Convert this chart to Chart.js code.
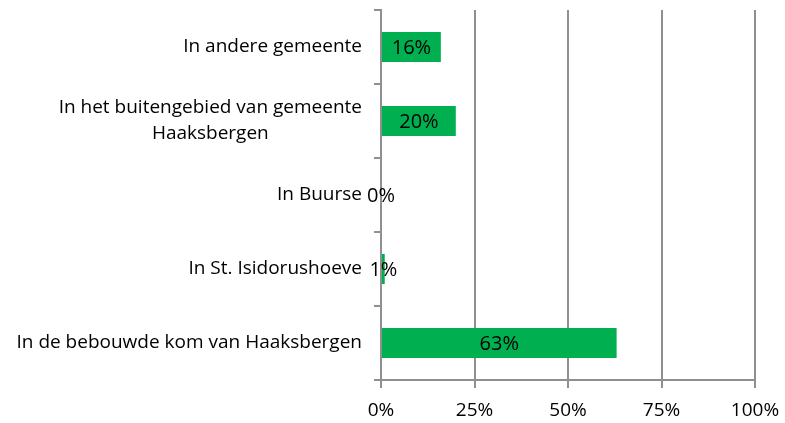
<!DOCTYPE html>
<html>
<head>
<meta charset="utf-8">
<script src="https://cdn.jsdelivr.net/npm/chart.js@4/dist/chart.umd.min.js"></script>
<style>
  html, body { margin: 0; padding: 0; background: #fff; }
  #wrap { width: 785px; height: 423px; }
</style>
</head>
<body>
<div id="wrap"><canvas id="woonplaatsChart"></canvas></div>
<script>
const categories = [
  ['In andere gemeente'],
  ['In het buitengebied van gemeente', 'Haaksbergen'],
  ['In Buurse'],
  ['In St. Isidorushoeve'],
  ['In de bebouwde kom van Haaksbergen']
];
const percentages = [16, 20, 0, 1, 63];
const xTicks = [0, 25, 50, 75, 100];

const FONT = '"Open Sans", sans-serif';
const FONT_SIZE = 19;
const GREY = '#8f8f8f';

// labels left of the axis: right aligned, extra lines centred under the first
const categoryLabels = {
  id: 'categoryLabels',
  afterDraw(chart) {
    const ctx = chart.ctx;
    const yScale = chart.scales.y;
    const right = yScale.right - 19;
    ctx.save();
    ctx.font = FONT_SIZE + 'px ' + FONT;
    ctx.fillStyle = '#000';
    ctx.textAlign = 'center';
    ctx.textBaseline = 'middle';
    categories.forEach((lines, i) => {
      const yc = yScale.getPixelForValue(i);
      const w = Math.max(...lines.map(l => ctx.measureText(l).width));
      const lh = 26;
      const top = yc - (lines.length - 1) * lh / 2;
      lines.forEach((l, j) => ctx.fillText(l, right - w / 2, top + j * lh));
    });
    ctx.restore();
  }
};

// value labels centred in each bar
const barValues = {
  id: 'barValues',
  afterDatasetsDraw(chart) {
    const ctx = chart.ctx;
    const meta = chart.getDatasetMeta(0);
    ctx.save();
    ctx.font = '20px ' + FONT;
    ctx.fillStyle = '#000';
    ctx.textAlign = 'center';
    ctx.textBaseline = 'middle';
    meta.data.forEach((bar, i) => {
      ctx.fillText(percentages[i] + '%', (bar.x + bar.base) / 2, bar.y + 1);
    });
    ctx.restore();
  }
};

new Chart(document.getElementById('woonplaatsChart'), {
  type: 'bar',
  data: {
    labels: categories.map(c => c.join(' ')),
    datasets: [{
      data: percentages,
      backgroundColor: '#00b050',
      borderWidth: 0,
      barPercentage: 0.405,
      categoryPercentage: 1
    }]
  },
  options: {
    indexAxis: 'y',
    responsive: true,
    maintainAspectRatio: false,
    animation: false,
    layout: { padding: { top: 10, right: 30, left: 0, bottom: 0 } },
    plugins: { legend: { display: false }, tooltip: { enabled: false } },
    scales: {
      x: {
        min: 0,
        max: 100,
        afterBuildTicks: scale => { scale.ticks = xTicks.map(v => ({ value: v })); },
        afterFit: scale => {
          scale.height = 43;
          scale.paddingLeft = 0;
          scale.paddingRight = 0;
        },
        ticks: {
          callback: v => v + '%',
          color: '#000',
          font: { family: FONT, size: FONT_SIZE },
          padding: 11,
          maxRotation: 0
        },
        grid: { color: GREY, lineWidth: 2, tickLength: 8, drawOnChartArea: true },
        border: { color: GREY, width: 2 }
      },
      y: {
        afterFit: scale => { scale.width = 381; },
        ticks: { display: false },
        grid: { offset: true, drawOnChartArea: false, color: GREY, lineWidth: 2, tickLength: 7 },
        border: { color: GREY, width: 2 }
      }
    }
  },
  plugins: [categoryLabels, barValues]
});
</script>
</body>
</html>
